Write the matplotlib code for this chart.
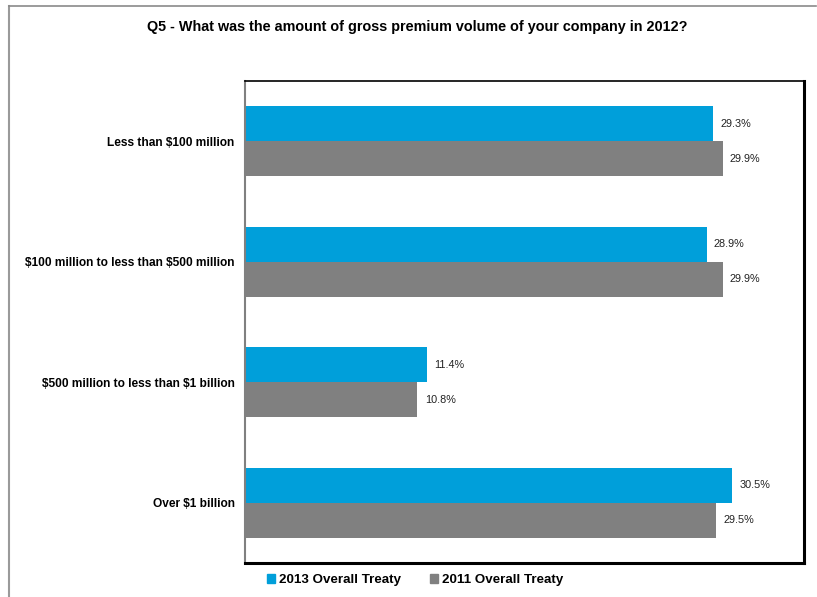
import numpy as np
import matplotlib.pyplot as plt
from matplotlib.lines import Line2D
from matplotlib.patches import Patch

plt.rcParams['font.family'] = ['Liberation Sans', 'DejaVu Sans']
plt.rcParams['text.parse_math'] = False

categories = ['Less than $100 million',
              '$100 million to less than $500 million',
              '$500 million to less than $1 billion',
              'Over $1 billion']
vals_2013 = [29.3, 28.9, 11.4, 30.5]
vals_2011 = [29.9, 29.9, 10.8, 29.5]
series_names = ['2013 Overall Treaty', '2011 Overall Treaty']

blue = '#009fda'
grey = '#808080'

fig = plt.figure(figsize=(8.17, 5.97), dpi=100)
ax = fig.add_axes([245 / 817, 1 - 563 / 597, (804 - 245) / 817, (563 - 81) / 597])

y = np.arange(len(categories))
h = 0.29
ax.barh(y - h / 2, vals_2013, height=h, color=blue, edgecolor='none')
ax.barh(y + h / 2, vals_2011, height=h, color=grey, edgecolor='none')

for yi, v in zip(y, vals_2013):
    ax.text(v + 0.45, yi - h / 2, '%.1f%%' % v, va='center', ha='left', fontsize=7.8, color='#222222')
for yi, v in zip(y, vals_2011):
    ax.text(v + 0.45, yi + h / 2, '%.1f%%' % v, va='center', ha='left', fontsize=7.8, color='#222222')

ax.set_xlim(0, 35.0)
ax.set_ylim(len(categories) - 0.5, -0.5)
ax.set_xticks([])
ax.set_yticks(y)
ax.set_yticklabels(categories, fontsize=8.6, fontweight='bold')
ax.tick_params(axis='y', length=0, pad=7.5)

# frame: grey left axis, black box with a heavier right/bottom edge
ax.spines['left'].set_color('#808080')
ax.spines['left'].set_linewidth(1.5)
ax.spines['top'].set_color('black')
ax.spines['top'].set_linewidth(1.2)
ax.spines['right'].set_color('black')
ax.spines['right'].set_linewidth(2.2)
ax.spines['bottom'].set_color('black')
ax.spines['bottom'].set_linewidth(2.2)

fig.text(417 / 817, 1 - 27 / 597, 'Q5 - What was the amount of gross premium volume of your company in 2012?',
         ha='center', va='center', fontsize=10.4, fontweight='bold')

handles = [Patch(color=blue), Patch(color=grey)]
fig.legend(handles, series_names, loc='center', bbox_to_anchor=(415 / 817, 1 - 580 / 597),
           ncol=2, frameon=False, prop={'weight': 'bold', 'size': 9.6},
           handlelength=0.6, handleheight=0.6, handletextpad=0.3, columnspacing=2.2)

# outer chart border (top and left edges)
fig.add_artist(Line2D([8.5 / 817, 8.5 / 817], [0, 1 - 6 / 597], transform=fig.transFigure,
                      color='#9a9a9a', linewidth=1.5))
fig.add_artist(Line2D([8.5 / 817, 816 / 817], [1 - 6 / 597, 1 - 6 / 597], transform=fig.transFigure,
                      color='#8a8a8a', linewidth=1.2))

fig.savefig('out.png', dpi=100)
